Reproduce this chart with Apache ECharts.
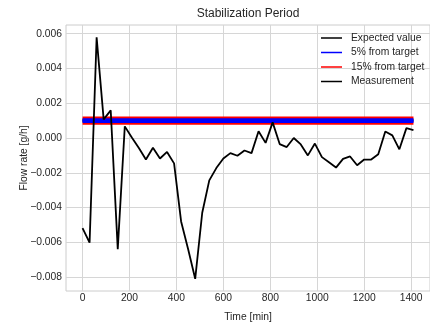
<!DOCTYPE html>
<html>
<head>
<meta charset="utf-8">
<script src="https://cdn.jsdelivr.net/npm/echarts@6/dist/echarts.min.js"></script>
<style>
  html, body { margin: 0; padding: 0; background: #ffffff; }
  #chart { width: 430px; height: 327px; }
</style>
</head>
<body>
<div id="chart"></div>
<script>
// Sampling times (minutes) and measured flow rate (g/h)
const times = [
  0, 30, 60, 90, 120, 150, 180, 210, 240, 270, 300, 330, 360, 390, 420, 450,
  480, 510, 540, 570, 600, 630, 660, 690, 720, 750, 780, 810, 840, 870, 900, 930,
  960, 990, 1020, 1050, 1080, 1110, 1140, 1170, 1200, 1230, 1260, 1290, 1320, 1350, 1380, 1410
];
const flowRate = [
  -0.00518, -0.00602, 0.00579, 0.00107, 0.00159, -0.00639, 0.00067, 0.00003,
  -0.00058, -0.00124, -0.00056, -0.00118, -0.00080, -0.00146, -0.00480, -0.00640,
  -0.00810, -0.00430, -0.00244, -0.00173, -0.00118, -0.00087, -0.00102, -0.00072,
  -0.00087, 0.00039, -0.00028, 0.00090, -0.00035, -0.00052, 0.00000, -0.00037,
  -0.00100, -0.00032, -0.00110, -0.00140, -0.00170, -0.00120, -0.00106, -0.00157,
  -0.00124, -0.00124, -0.00093, 0.00037, 0.00015, -0.00065, 0.00057, 0.00046
];

// Target value and tolerance bands
const expectedValue = 0.001;
const tolerance5 = 0.05;
const tolerance15 = 0.15;

// Tick positions
const xTicks = [0, 200, 400, 600, 800, 1000, 1200, 1400];
const yTicks = [-0.008, -0.006, -0.004, -0.002, 0.000, 0.002, 0.004, 0.006];

const legendNames = ['Expected value', '5% from target', '15% from target', 'Measurement'];

const FONT = "'Liberation Sans', Arial, sans-serif";
const TEXT = '#262626';
const GRID = '#d6d6d6';

const tStart = times[0];
const tEnd = times[times.length - 1];
const flatLine = v => [[tStart, v], [tEnd, v]];

function lineSeries(name, data, color, width) {
  return {
    name: name,
    type: 'line',
    data: data,
    symbol: 'none',
    showSymbol: false,
    silent: true,
    animation: false,
    color: color,
    itemStyle: { color: color },
    lineStyle: { color: color, width: width }
  };
}

const chart = echarts.init(document.getElementById('chart'), null, { renderer: 'canvas' });

chart.setOption({
  animation: false,
  backgroundColor: '#ffffff',
  textStyle: { fontFamily: FONT, color: TEXT },
  title: {
    text: 'Stabilization Period',
    left: 248,
    top: 7.5,
    padding: 0,
    textAlign: 'center',
    textStyle: { fontFamily: FONT, fontSize: 12, fontWeight: 'normal', color: TEXT, lineHeight: 13 }
  },
  legend: {
    orient: 'vertical',
    left: 321,
    top: 31,
    padding: 0,
    itemGap: 0.5,
    itemWidth: 21,
    itemHeight: 1.5,
    icon: 'rect',
    data: legendNames,
    textStyle: { fontFamily: FONT, fontSize: 10.3, color: TEXT, lineHeight: 14, padding: [0, 0, 0, 4] }
  },
  grid: {
    left: 66,
    top: 25,
    width: 366,
    height: 273,
    show: true,
    borderColor: '#cccccc',
    borderWidth: 1,
    backgroundColor: '#ffffff'
  },
  xAxis: {
    type: 'value',
    min: -70.5,
    max: 1480.5,
    name: 'Time [min]',
    nameLocation: 'middle',
    nameGap: 21,
    nameMoveOverlap: false,
    nameTextStyle: { fontFamily: FONT, fontSize: 10.3, color: TEXT },
    axisLine: { show: false },
    axisTick: { show: false, customValues: xTicks },
    axisLabel: {
      customValues: xTicks,
      margin: 2,
      fontFamily: FONT,
      fontSize: 10.3,
      color: TEXT,
      formatter: v => String(v)
    },
    splitLine: { show: true, lineStyle: { color: GRID, width: 1 } }
  },
  yAxis: {
    type: 'value',
    min: -0.0088,
    max: 0.0065,
    name: 'Flow rate [g/h]',
    nameLocation: 'middle',
    nameGap: 37,
    nameMoveOverlap: false,
    nameTextStyle: { fontFamily: FONT, fontSize: 10.3, color: TEXT },
    axisLine: { show: false },
    axisTick: { show: false, customValues: yTicks },
    axisLabel: {
      customValues: yTicks,
      margin: 4,
      fontFamily: FONT,
      fontSize: 10.3,
      color: TEXT,
      formatter: v => (v < 0 ? '\u2212' : '') + Math.abs(v).toFixed(3)
    },
    splitLine: { show: true, lineStyle: { color: GRID, width: 1 } }
  },
  series: [
    lineSeries('Expected value', flatLine(expectedValue), '#000000', 3),
    lineSeries('15% from target', flatLine(expectedValue * (1 + tolerance15)), '#ff0000', 3),
    lineSeries('15% from target', flatLine(expectedValue * (1 - tolerance15)), '#ff0000', 3),
    lineSeries('5% from target', flatLine(expectedValue * (1 + tolerance5)), '#0000ff', 3),
    lineSeries('5% from target', flatLine(expectedValue * (1 - tolerance5)), '#0000ff', 3),
    lineSeries('Measurement', times.map((t, i) => [t, flowRate[i]]), '#000000', 1.8)
  ]
});
</script>
</body>
</html>
